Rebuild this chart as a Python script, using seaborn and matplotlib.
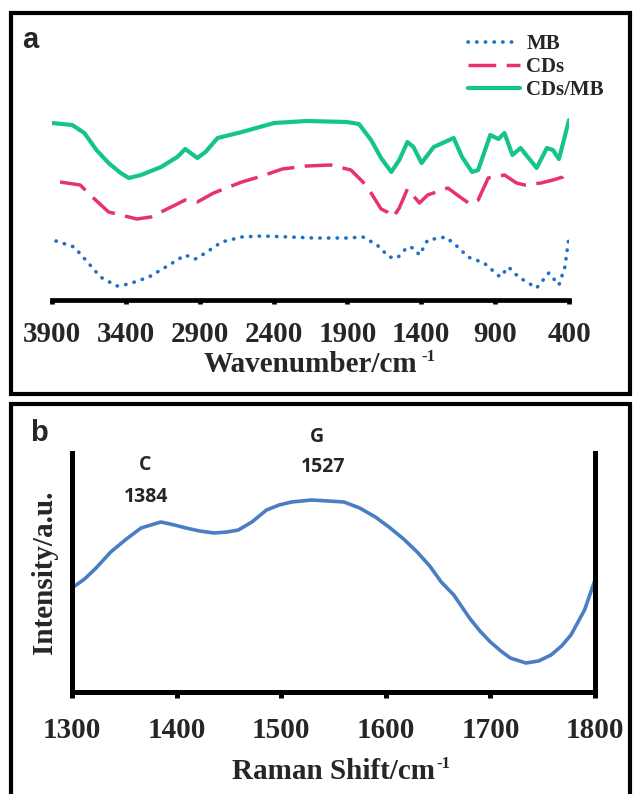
import numpy as np
import pandas as pd
import matplotlib
matplotlib.use("Agg")
import matplotlib.pyplot as plt
from matplotlib.patches import Rectangle
import seaborn as sns

# ---- panel a: FTIR spectra (wavenumber, arbitrary transmittance) ----
cdsmb_wn = [3900, 3763, 3681, 3599, 3517, 3435, 3380, 3298, 3162, 3052, 2998, 2916,
            2861, 2779, 2615, 2396, 2177, 1904, 1822, 1740, 1672, 1603, 1549, 1494,
            1453, 1398, 1316, 1181, 1124, 1056, 1015, 933, 878, 837, 783, 728, 619,
            550, 509, 468, 400]
cdsmb_t = [177, 175, 167, 150, 137, 127, 122, 125, 133, 143, 151, 142,
           148, 162, 168, 177, 179, 178, 176, 160, 142, 128, 140, 158,
           153, 137, 153, 162, 143, 128, 130, 165, 161, 167, 145, 152, 132,
           152, 150, 141, 180]

cds_wn = [3845, 3709, 3627, 3517, 3380, 3326, 3230, 3107, 2998, 2916, 2806, 2615,
          2478, 2341, 2177, 2013, 1877, 1795, 1740, 1672, 1631, 1590, 1549, 1494,
          1412, 1357, 1220, 1138, 1070, 1015, 947, 837, 755, 701, 591, 509, 441, 400]
cds_t = [118, 115, 103, 88, 83, 81, 83, 92, 100, 98, 107, 118,
         124, 131, 134, 135, 130, 118, 107, 91, 88, 83, 92, 111,
         97, 105, 112, 103, 96, 100, 122, 125, 117, 115, 117, 120, 123, 130]

mb_wn = [3873, 3750, 3654, 3572, 3462, 3380, 3244, 3107, 2998, 2930, 2861, 2752,
         2615, 2478, 2287, 2123, 1904, 1795, 1699, 1617, 1562, 1494, 1453, 1412,
         1357, 1234, 1152, 1084, 975, 866, 810, 742, 619, 537, 468, 428, 400]
mb_t = [59, 53, 37, 23, 14, 16, 23, 35, 45, 41, 47, 58,
        63, 64, 63, 62, 62, 63, 55, 43, 42, 53, 52, 45,
        60, 63, 53, 43, 37, 23, 33, 23, 12, 27, 15, 33, 63]

ftir_ticks = [3900, 3400, 2900, 2400, 1900, 1400, 900, 400]

# ---- panel b: Raman spectrum ----
raman_x = [1300, 1312, 1323, 1337, 1352, 1366, 1385, 1398, 1409, 1422, 1436, 1448,
           1459, 1472, 1486, 1498, 1510, 1529, 1545, 1560, 1575, 1590, 1603, 1617,
           1630, 1642, 1653, 1665, 1680, 1690, 1700, 1710, 1719, 1734, 1746, 1758,
           1768, 1777, 1790, 1800]
raman_y = [104, 113, 124, 140, 153, 164, 170, 167, 164, 161, 159, 160,
           162, 170, 182, 187, 190, 192, 191, 190, 184, 175, 165, 153,
           140, 126, 110, 97, 74, 61, 50, 41, 34, 29, 31, 37,
           46, 57, 82, 112]
raman_ticks = [1300, 1400, 1500, 1600, 1700, 1800]

sns.set_theme(style="white")
plt.rcParams["font.family"] = ["Liberation Serif", "DejaVu Serif"]

W, H = 633, 794
fig = plt.figure(figsize=(W / 100, H / 100), dpi=100)


def fbox(x0, y0, x1, y1):
    # pixel box (top-left origin) -> figure fraction [l, b, w, h]
    return [x0 / W, 1 - y1 / H, (x1 - x0) / W, (y1 - y0) / H]


# outer panel frames
for y0, y1 in [(13, 394), (404, 800)]:
    fig.patches.append(Rectangle((11 / W, 1 - y1 / H), 619 / W, (y1 - y0) / H,
                                 transform=fig.transFigure, fill=False,
                                 edgecolor="black", linewidth=3, zorder=0))

tick_font = dict(family="Liberation Serif", weight="bold", size=21)

# ---------------- panel a ----------------
ax1 = fig.add_axes(fbox(52, 30, 569, 300))
df_mb = pd.DataFrame({"wn": mb_wn, "t": mb_t})
df_cds = pd.DataFrame({"wn": cds_wn, "t": cds_t})
df_mix = pd.DataFrame({"wn": cdsmb_wn, "t": cdsmb_t})
sns.lineplot(data=df_mb, x="wn", y="t", ax=ax1, color="#1f6fc8", lw=2.6,
             linestyle=(0, (0.1, 2.3)), dash_capstyle="round", sort=False, label="MB")
sns.lineplot(data=df_cds, x="wn", y="t", ax=ax1, color="#e8336a", lw=2.5,
             linestyle=(0, (8, 3)), sort=False, label="CDs")
sns.lineplot(data=df_mix, x="wn", y="t", ax=ax1, color="#14c48c", lw=3,
             sort=False, label="CDs/MB")
ax1.set_xlim(3900, 400)
ax1.set_ylim(0, 270)
ax1.set_xticks(ftir_ticks)
ax1.set_xticklabels([str(t) for t in ftir_ticks], fontdict=tick_font)
ax1.set_yticks([])
ax1.set_ylabel("")
ax1.set_xlabel("Wavenumber/cm", fontdict=tick_font, labelpad=2)
for s in ["top", "left", "right"]:
    ax1.spines[s].set_visible(False)
ax1.spines["bottom"].set_linewidth(3.4)
ax1.spines["bottom"].set_color("black")
ax1.tick_params(axis="x", direction="out", length=3, width=3.4, color="black", pad=12,
                bottom=True)
ax1.patch.set_alpha(0)
ax1.legend(loc="upper left", bbox_to_anchor=(468 / W, 1 - 34 / H),
           bbox_transform=fig.transFigure, frameon=False,
           prop=dict(family="Liberation Serif", weight="bold", size=15),
           handlelength=2.5, handletextpad=0.3, labelspacing=0.15,
           borderpad=0, borderaxespad=0)
fig.text(22 / W, 1 - 40 / H, "a", family="Liberation Sans", weight="bold",
         size=21, va="center", ha="left")

# ---------------- panel b ----------------
ax2 = fig.add_axes(fbox(72, 453, 595, 692))
df_r = pd.DataFrame({"shift": raman_x, "inten": raman_y})
sns.lineplot(data=df_r, x="shift", y="inten", ax=ax2, color="#4a7ec4", lw=2.6)
ax2.set_xlim(1300, 1800)
ax2.set_ylim(0, 239)
ax2.set_xticks(raman_ticks)
ax2.set_xticklabels([str(t) for t in raman_ticks], fontdict=tick_font)
ax2.set_yticks([])
ax2.set_xlabel("Raman Shift/cm", fontdict=tick_font, labelpad=10)
ax2.set_ylabel("Intensity/a.u.", fontdict=tick_font, labelpad=10)
ax2.spines["top"].set_visible(False)
for s in ["left", "right", "bottom"]:
    ax2.spines[s].set_linewidth(3.6)
    ax2.spines[s].set_color("black")
ax2.tick_params(axis="x", direction="out", length=4, width=3.6, color="black", pad=14,
                bottom=True)
ax2.patch.set_alpha(0)

ann_font = dict(family="Open Sans", weight="bold", size=14)
fig.text(145 / W, 1 - 465 / H, "C", ha="center", va="center", **ann_font)
fig.text(146 / W, 1 - 497 / H, "1384", ha="center", va="center", **ann_font)
fig.text(317 / W, 1 - 437 / H, "G", ha="center", va="center", **ann_font)
fig.text(323 / W, 1 - 467 / H, "1527", ha="center", va="center", **ann_font)
fig.text(30 / W, 1 - 433 / H, "b", family="Liberation Sans", weight="bold",
         size=21, va="center", ha="left")

# small "-1" superscripts after the x labels
fig.canvas.draw()
inv = fig.transFigure.inverted()
for ax, gap in [(ax1, 4), (ax2, 1)]:
    bb = ax.xaxis.label.get_window_extent()
    x_end, y_base = inv.transform((bb.x1 + gap, bb.y0 + 17))
    fig.text(x_end, y_base, "-1", family="Liberation Serif", weight="bold", size=12,
             ha="left", va="baseline")

fig.savefig("out.png", dpi=100)
